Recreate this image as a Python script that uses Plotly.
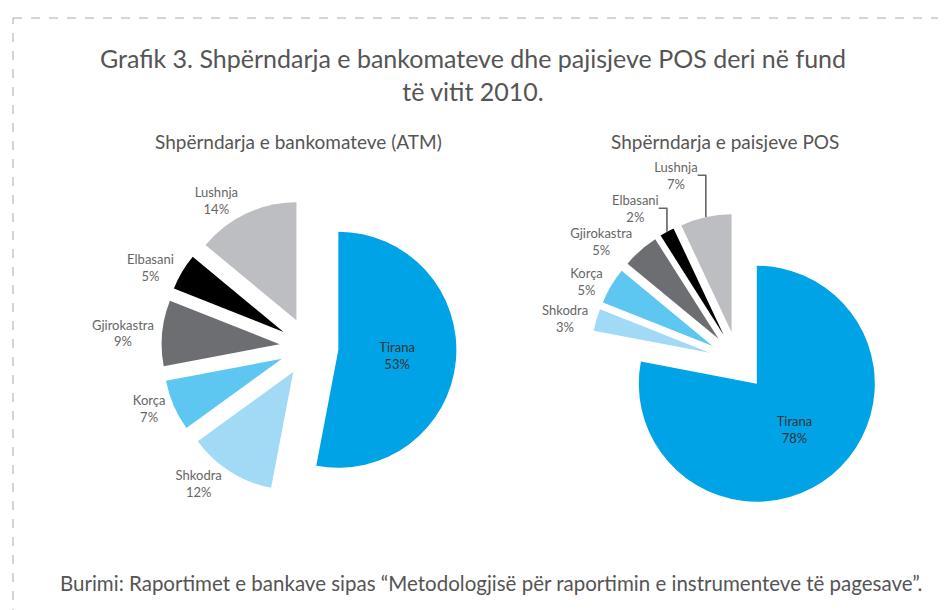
import plotly.graph_objects as go

# te dhenat (%), nga grafiku
qytetet = ["Tirana", "Shkodra", "Korça", "Gjirokastra", "Elbasani", "Lushnja"]
atm_pct = [53, 12, 7, 9, 5, 14]
pos_pct = [78, 3, 5, 5, 2, 7]

ngjyrat = ["#00A3E6", "#A2D9F5", "#5DC7F2", "#6D6E71", "#000000", "#BDBEC1"]

W, H = 946, 610
FONT = "Lato"


def dom(cx, cy, half):
    # domain ne pixel -> paper
    return dict(x=[(cx - half) / W, (cx + half) / W],
                y=[1 - (cy + half) / H, 1 - (cy - half) / H])


def pie(values, domain):
    return go.Pie(
        labels=qytetet,
        values=values,
        sort=False,
        direction="clockwise",
        rotation=0,
        pull=[0.25] * len(values),
        marker=dict(colors=ngjyrat, line=dict(width=0)),
        texttemplate="%{label}<br>%{percent:.0%}",
        textposition=["inside"] + ["outside"] * (len(values) - 1),
        insidetextorientation="horizontal",
        insidetextfont=dict(family=FONT, size=13, color="#333333"),
        outsidetextfont=dict(family=FONT, size=13, color="#666666"),
        domain=domain,
        showlegend=False,
        hoverinfo="label+percent",
    )


def tekst(t, px, py, size, anchor="center"):
    return dict(text=t, x=px / W, y=1 - py / H, xref="paper", yref="paper",
                xanchor=anchor, yanchor="middle", showarrow=False, align="center",
                font=dict(size=size, color="#555555"))


fig = go.Figure()
fig.add_trace(pie(atm_pct, dom(301, 339, 147.5)))
fig.add_trace(pie(pos_pct, dom(730, 353, 147.5)))

fig.update_layout(
    width=W, height=H,
    margin=dict(l=0, r=0, t=0, b=0),
    paper_bgcolor="white",
    font=dict(family=FONT, color="#555555"),
    annotations=[
        tekst("Grafik 3. Shpërndarja e bankomateve dhe pajisjeve POS deri në fund<br>të vitit 2010.",
              465, 67, 25),
        tekst("Shpërndarja e bankomateve (ATM)", 290, 134, 19),
        tekst("Shpërndarja e paisjeve POS", 717, 134, 19),
        tekst("Burimi: Raportimet e bankave sipas “Metodologjisë për raportimin e instrumenteve të pagesave”.",
              50, 575, 20.5, anchor="left"),
    ],
    shapes=[
        dict(type="line", xref="paper", yref="paper", x0=5 / W, x1=1, y0=1 - 10 / H, y1=1 - 10 / H,
             line=dict(color="#AAAAAA", width=1, dash="dash")),
        dict(type="line", xref="paper", yref="paper", x0=5 / W, x1=5 / W, y0=0, y1=1 - 10 / H,
             line=dict(color="#AAAAAA", width=1, dash="dash")),
    ],
)

fig.write_html("out.html")
